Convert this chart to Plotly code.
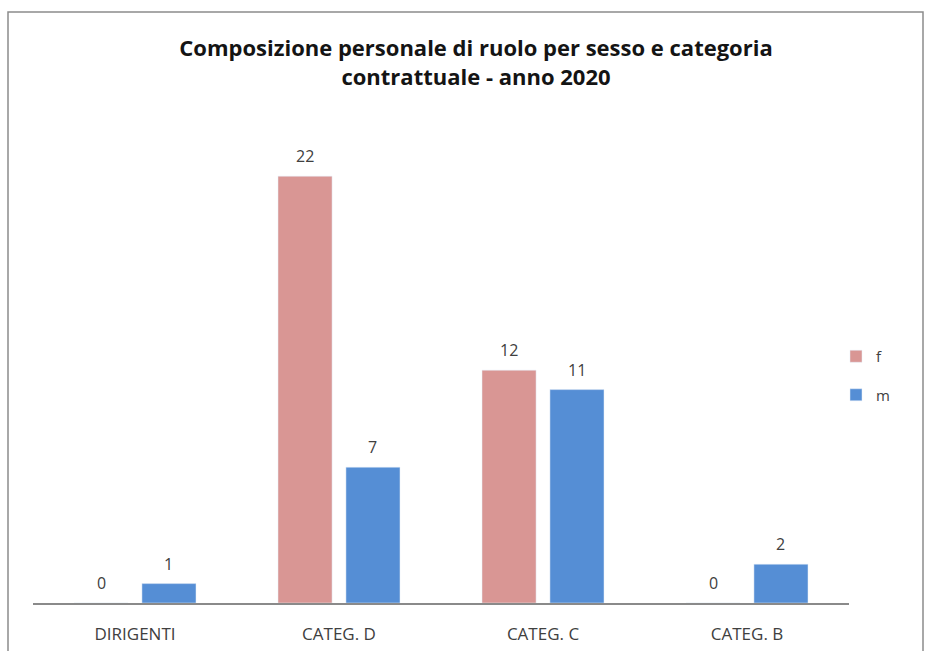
import plotly.graph_objects as go

# Staff by contract category and sex, 2020
categories = ["DIRIGENTI", "CATEG. D", "CATEG. C", "CATEG. B"]
female = [0, 22, 12, 0]
male = [1, 7, 11, 2]

FONT = "'Open Sans', Lato, sans-serif"
LABEL_COLOR = "#404040"
F_COLOR = "#D99694"
M_COLOR = "#558ED5"

BAR_W = 0.265
F_OFFSET = -0.299
M_OFFSET = 0.034

fig = go.Figure()
fig.add_trace(go.Bar(
    name="f", x=categories, y=female, marker_color=F_COLOR,
    width=BAR_W, offset=F_OFFSET, legendgroup="f",
))
fig.add_trace(go.Bar(
    name="m", x=categories, y=male, marker_color=M_COLOR,
    width=BAR_W, offset=M_OFFSET, legendgroup="m",
))

# value labels above each bar
annotations = []
for series, off in ((female, F_OFFSET), (male, M_OFFSET)):
    for i, (cat, v) in enumerate(zip(categories, series)):
        annotations.append(dict(
            x=i + off + BAR_W / 2, y=v, xref="x", yref="y",
            text=str(v), showarrow=False, yanchor="bottom", yshift=7,
            font=dict(family=FONT, size=16, color=LABEL_COLOR),
        ))

L, R, T, B = 33, 76, 118, 48
W, H = 925, 651
pw, ph = W - L - R, H - T - B

def px_x(p):
    return (p - L) / pw

def px_y(p):
    return (H - B - p) / ph

fig.update_layout(
    width=W, height=H,
    margin=dict(l=L, r=R, t=T, b=B, autoexpand=False),
    paper_bgcolor="white", plot_bgcolor="white",
    title=dict(
        text="Composizione personale di ruolo per sesso e categoria<br>contrattuale - anno 2020",
        x=476 / W, xref="container", xanchor="center",
        y=1 - 56 / H, yref="container", yanchor="middle",
        font=dict(family=FONT, size=22, color="#141414", weight="bold"),
    ),
    barmode="group",
    showlegend=True,
    legend=dict(
        x=px_x(836), y=px_y(340), xanchor="left", yanchor="top",
        font=dict(family=FONT, size=15, color=LABEL_COLOR),
        tracegroupgap=16, bgcolor="rgba(0,0,0,0)",
    ),
    xaxis=dict(
        type="category", range=[-0.5, 3.5], automargin=False,
        showline=True, linecolor="#8a8a8a", linewidth=1.5,
        ticks="", ticklabelstandoff=15,
        tickfont=dict(family=FONT, size=17, color=LABEL_COLOR),
        showgrid=False, zeroline=False,
    ),
    yaxis=dict(
        range=[0, 25], visible=False, showgrid=False, zeroline=False,
        automargin=False,
    ),
    annotations=annotations,
    shapes=[dict(
        type="rect", xref="paper", yref="paper",
        x0=px_x(8), x1=px_x(923), y0=px_y(680), y1=px_y(12),
        line=dict(color="#8c8c8c", width=1.5), fillcolor="rgba(0,0,0,0)",
        layer="below",
    )],
)

fig.write_html("out.html")
